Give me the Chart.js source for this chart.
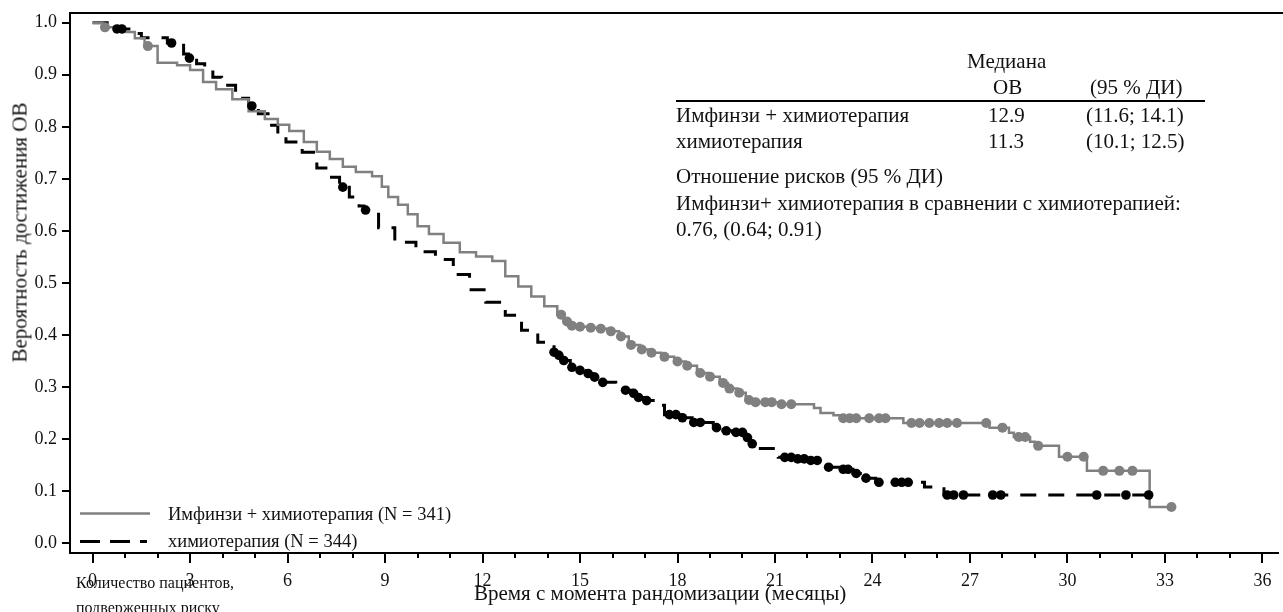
<!DOCTYPE html>
<html>
<head>
<meta charset="utf-8">
<script src="https://cdn.jsdelivr.net/npm/chart.js@4.4.1/dist/chart.umd.min.js"></script>
<style>
  body { margin: 0; background: #fff; }
  #wrap { position: relative; width: 1283px; height: 612px; overflow: hidden;
          font-family: "Liberation Serif", "Times New Roman", serif; color: #111; }
  #km { position: absolute; left: 0; top: 0; }
  .t { position: absolute; white-space: nowrap; }
  .tbl { font-size: 21px; line-height: 21px; }
  .leg { font-size: 18.5px; line-height: 18.5px; }
  .ytitle { font-size: 21px; line-height: 21px; width: 320px; text-align: center;
            left: -140px; top: 222px; transform: rotate(-90deg); }
  .xtitle { font-size: 21px; line-height: 21px; left: 474px; top: 583px; }
  .foot { font-size: 16px; line-height: 16px; }
  .rule { position: absolute; left: 676px; top: 99.5px; width: 529px; height: 2px; background: #000; }
</style>
</head>
<body>
<div id="wrap">
  <canvas id="km" width="1283" height="612"></canvas>

  <div class="t ytitle">Вероятность достижения ОВ</div>
  <div class="t xtitle">Время с момента рандомизации (месяцы)</div>

  <div class="t foot" style="left:76px; top:575px;">Количество пациентов,</div>
  <div class="t foot" style="left:76px; top:600px;">подверженных риску</div>

  <div class="t leg" style="left:168px; top:505px;">Имфинзи + химиотерапия (N = 341)</div>
  <div class="t leg" style="left:168px; top:532px;">химиотерапия (N = 344)</div>

  <div class="t tbl" style="left:967px; top:51px;">Медиана</div>
  <div class="t tbl" style="left:993px; top:77px;">ОВ</div>
  <div class="t tbl" style="left:1090px; top:77px;">(95 % ДИ)</div>
  <div class="rule"></div>
  <div class="t tbl" style="left:676px; top:105px;">Имфинзи + химиотерапия</div>
  <div class="t tbl" style="left:988px; top:105px;">12.9</div>
  <div class="t tbl" style="left:1086px; top:105px;">(11.6; 14.1)</div>
  <div class="t tbl" style="left:676px; top:131px;">химиотерапия</div>
  <div class="t tbl" style="left:988px; top:131px;">11.3</div>
  <div class="t tbl" style="left:1086px; top:131px;">(10.1; 12.5)</div>
  <div class="t tbl" style="left:676px; top:166px;">Отношение рисков (95 % ДИ)</div>
  <div class="t tbl" style="left:676px; top:193px;">Имфинзи+ химиотерапия в сравнении с химиотерапией:</div>
  <div class="t tbl" style="left:676px; top:219px;">0.76, (0.64; 0.91)</div>
</div>
<script>
// Kaplan-Meier steps (months, survival probability)
const durvaTime = [0, 0.3, 0.9, 1.3, 1.6, 2.0, 2.6, 3.0, 3.4, 3.8, 4.3, 4.8, 5.3, 5.7, 6.05, 6.5, 6.9, 7.3, 7.7, 8.1,
  8.6, 8.9, 9.1, 9.4, 9.7, 10.0, 10.35, 10.8, 11.3, 11.8, 12.3, 12.7, 13.1, 13.5, 13.9, 14.3, 14.5, 14.7, 15.0, 15.3,
  15.6, 15.9, 16.2, 16.5, 16.85, 17.15, 17.5, 17.9, 18.25, 18.6, 18.95, 19.3, 19.55, 19.85, 20.1, 20.35, 21.1, 22.2,
  22.4, 22.8, 23.0, 24.95, 27.6, 28.2, 28.35, 28.85, 29.0, 29.74, 30.6, 32.53, 33.2];
const durvaSurv = [1.0, 0.991, 0.982, 0.970, 0.955, 0.923, 0.918, 0.909, 0.886, 0.872, 0.853, 0.830, 0.815, 0.804, 0.792,
  0.771, 0.752, 0.738, 0.723, 0.713, 0.705, 0.685, 0.665, 0.650, 0.632, 0.609, 0.594, 0.577, 0.559, 0.551, 0.542, 0.513,
  0.493, 0.474, 0.455, 0.439, 0.426, 0.418, 0.416, 0.414, 0.412, 0.407, 0.397, 0.381, 0.372, 0.366, 0.358, 0.349, 0.341,
  0.327, 0.320, 0.308, 0.297, 0.289, 0.275, 0.271, 0.267, 0.260, 0.250, 0.246, 0.240, 0.231, 0.222, 0.212, 0.204, 0.195,
  0.187, 0.166, 0.139, 0.0695, 0.0695];

const chemoTime = [0, 0.5, 0.7, 1.3, 1.5, 2.3, 2.8, 2.95, 3.2, 3.45, 3.7, 3.97, 4.4, 4.8, 5.1, 5.4, 5.7, 5.95, 6.45, 6.9,
  7.3, 7.6, 7.9, 8.2, 8.35, 8.8, 9.3, 9.95, 10.55, 11.1, 11.6, 12.1, 12.7, 13.2, 13.7, 14.2, 14.35, 14.5, 14.7, 15.0,
  15.2, 15.4, 15.65, 16.1, 16.35, 16.6, 16.75, 17.0, 17.3, 17.6, 18.1, 18.45, 19.1, 19.4, 19.7, 20.1, 20.25, 20.5, 21.1,
  21.65, 22.05, 22.6, 23.0, 23.4, 23.7, 24.1, 25.6, 26.2, 32.5];
const chemoSurv = [1.0, 0.994, 0.988, 0.979, 0.971, 0.961, 0.940, 0.932, 0.921, 0.909, 0.895, 0.880, 0.855, 0.840, 0.825,
  0.803, 0.785, 0.771, 0.751, 0.721, 0.703, 0.684, 0.665, 0.648, 0.640, 0.606, 0.578, 0.560, 0.545, 0.516, 0.487, 0.463,
  0.438, 0.409, 0.386, 0.367, 0.361, 0.351, 0.338, 0.332, 0.326, 0.319, 0.309, 0.299, 0.294, 0.288, 0.280, 0.274, 0.265,
  0.247, 0.241, 0.232, 0.222, 0.216, 0.213, 0.203, 0.191, 0.182, 0.165, 0.162, 0.159, 0.146, 0.142, 0.134, 0.125, 0.117,
  0.108, 0.0926, 0.0926];

// censored patients (circles)
const durvaCensTime = [0.38, 1.7, 14.42, 14.6, 14.75, 15.0, 15.33, 15.64, 15.95, 16.26, 16.57, 16.9, 17.2, 17.6, 18.0,
  18.3, 18.7, 19.0, 19.4, 19.6, 19.9, 20.2, 20.4, 20.7, 20.9, 21.2, 21.5, 23.1, 23.3, 23.5, 23.9, 24.2, 24.4, 25.2, 25.45,
  25.75, 26.05, 26.3, 26.6, 27.5, 28.0, 28.5, 28.7, 29.1, 30.0, 30.5, 31.1, 31.6, 32.0, 33.2];
const durvaCensSurv = [0.991, 0.955, 0.439, 0.426, 0.418, 0.416, 0.414, 0.412, 0.407, 0.397, 0.381, 0.372, 0.366, 0.358,
  0.349, 0.341, 0.327, 0.320, 0.308, 0.297, 0.289, 0.275, 0.271, 0.271, 0.271, 0.267, 0.267, 0.240, 0.240, 0.240, 0.240,
  0.240, 0.240, 0.231, 0.231, 0.231, 0.231, 0.231, 0.231, 0.231, 0.222, 0.204, 0.204, 0.187, 0.166, 0.166, 0.139, 0.139,
  0.139, 0.0695];

const chemoCensTime = [0.75, 0.9, 2.43, 2.98, 4.9, 7.7, 8.4, 14.2, 14.35, 14.5, 14.75, 15.0, 15.25, 15.45, 15.7, 16.4,
  16.65, 16.8, 17.05, 17.75, 17.95, 18.15, 18.5, 18.7, 19.2, 19.5, 19.8, 20.0, 20.15, 20.3, 21.3, 21.5, 21.7, 21.9, 22.1,
  22.3, 22.65, 23.1, 23.25, 23.5, 23.8, 24.2, 24.7, 24.9, 25.1, 26.3, 26.5, 26.8, 27.7, 27.95, 30.9, 31.8, 32.5];
const chemoCensSurv = [0.988, 0.988, 0.961, 0.932, 0.840, 0.684, 0.640, 0.367, 0.361, 0.351, 0.338, 0.332, 0.326, 0.319,
  0.309, 0.294, 0.288, 0.280, 0.274, 0.247, 0.247, 0.241, 0.232, 0.232, 0.222, 0.216, 0.213, 0.213, 0.203, 0.191, 0.165,
  0.165, 0.162, 0.162, 0.159, 0.159, 0.146, 0.142, 0.142, 0.134, 0.125, 0.117, 0.117, 0.117, 0.117, 0.0926, 0.0926,
  0.0926, 0.0926, 0.0926, 0.0926, 0.0926, 0.0926];

const xTickMonths = [0, 1, 2, 3, 4, 5, 6, 7, 8, 9, 10, 11, 12, 13, 14, 15, 16, 17, 18, 19, 20, 21, 22, 23, 24, 25, 26,
  27, 28, 29, 30, 31, 32, 33, 34, 35, 36];
const xLabelMonths = [0, 3, 6, 9, 12, 15, 18, 21, 24, 27, 30, 33, 36];
const yTicks = [0, 0.1, 0.2, 0.3, 0.4, 0.5, 0.6, 0.7, 0.8, 0.9, 1.0];

const GREY = '#808080';
const BLACK = '#000';

const toPts = (t, s) => t.map((x, i) => ({x: x, y: s[i]}));

// frame top line, tick marks and legend samples
const decorations = {
    id: 'decorations',
    afterDraw(chart) {
        const ctx = chart.ctx;
        const area = chart.chartArea;
        const xs = chart.scales.x;
        const ys = chart.scales.y;
        ctx.save();
        ctx.strokeStyle = BLACK;
        ctx.lineWidth = 2;
        ctx.beginPath();
        ctx.moveTo(area.left - 1, area.top);
        ctx.lineTo(chart.width, area.top);
        ctx.stroke();

        for (const m of xTickMonths) {
            const px = Math.round(xs.getPixelForValue(m));
            const len = xLabelMonths.includes(m) ? 10 : 5;
            ctx.beginPath();
            ctx.moveTo(px, area.bottom);
            ctx.lineTo(px, area.bottom + len);
            ctx.stroke();
        }
        for (const v of yTicks) {
            const py = Math.round(ys.getPixelForValue(v));
            ctx.beginPath();
            ctx.moveTo(area.left - 8, py);
            ctx.lineTo(area.left, py);
            ctx.stroke();
        }

        // legend samples
        ctx.strokeStyle = GREY;
        ctx.lineWidth = 2.5;
        ctx.beginPath();
        ctx.moveTo(80, 513.5);
        ctx.lineTo(150, 513.5);
        ctx.stroke();
        ctx.strokeStyle = BLACK;
        ctx.lineWidth = 3;
        ctx.setLineDash([20, 10]);
        ctx.beginPath();
        ctx.moveTo(80, 541.5);
        ctx.lineTo(147, 541.5);
        ctx.stroke();
        ctx.restore();
    }
};

const tickFont = {family: 'Liberation Serif', size: 18};

new Chart(document.getElementById('km'), {
    type: 'line',
    data: {
        datasets: [
            {
                label: 'durva censored',
                data: toPts(durvaCensTime, durvaCensSurv),
                showLine: false,
                pointRadius: 5,
                pointBackgroundColor: GREY,
                pointBorderWidth: 0,
            },
            {
                label: 'chemo censored',
                data: toPts(chemoCensTime, chemoCensSurv),
                showLine: false,
                pointRadius: 4.8,
                pointBackgroundColor: BLACK,
                pointBorderWidth: 0,
            },
            {
                label: 'Имфинзи + химиотерапия (N = 341)',
                data: toPts(durvaTime, durvaSurv),
                stepped: true,
                borderColor: GREY,
                borderWidth: 2.5,
                pointRadius: 0,
                fill: false,
            },
            {
                label: 'химиотерапия (N = 344)',
                data: toPts(chemoTime, chemoSurv),
                stepped: true,
                borderColor: BLACK,
                borderWidth: 3,
                borderDash: [16, 12],
                pointRadius: 0,
                fill: false,
            },
        ]
    },
    options: {
        responsive: false,
        animation: false,
        events: [],
        layout: {padding: {top: 13, right: 0, bottom: 0, left: 0}},
        plugins: {
            legend: {display: false},
            tooltip: {enabled: false}
        },
        scales: {
            x: {
                type: 'linear',
                min: -0.696,
                max: 36.48,
                grid: {display: false, drawTicks: false},
                border: {display: true, color: BLACK, width: 2},
                afterBuildTicks: (scale) => { scale.ticks = xTickMonths.map(v => ({value: v})); },
                afterFit: (scale) => {
                    scale.height = 59;
                    scale.paddingLeft = 0;
                    scale.paddingRight = 0;
                },
                ticks: {
                    autoSkip: false,
                    maxRotation: 0,
                    padding: 17,
                    color: '#111',
                    font: tickFont,
                    callback: (v) => xLabelMonths.includes(v) ? String(v) : ''
                }
            },
            y: {
                type: 'linear',
                min: -0.0188,
                max: 1.0186,
                grid: {display: false, drawTicks: false},
                border: {display: true, color: BLACK, width: 2},
                afterBuildTicks: (scale) => { scale.ticks = yTicks.map(v => ({value: v})); },
                afterFit: (scale) => {
                    scale.width = 70;
                    scale.paddingTop = 0;
                    scale.paddingBottom = 0;
                },
                ticks: {
                    padding: 13,
                    color: '#111',
                    font: tickFont,
                    callback: (v) => v.toFixed(1)
                }
            }
        }
    },
    plugins: [decorations]
});
</script>
</body>
</html>
